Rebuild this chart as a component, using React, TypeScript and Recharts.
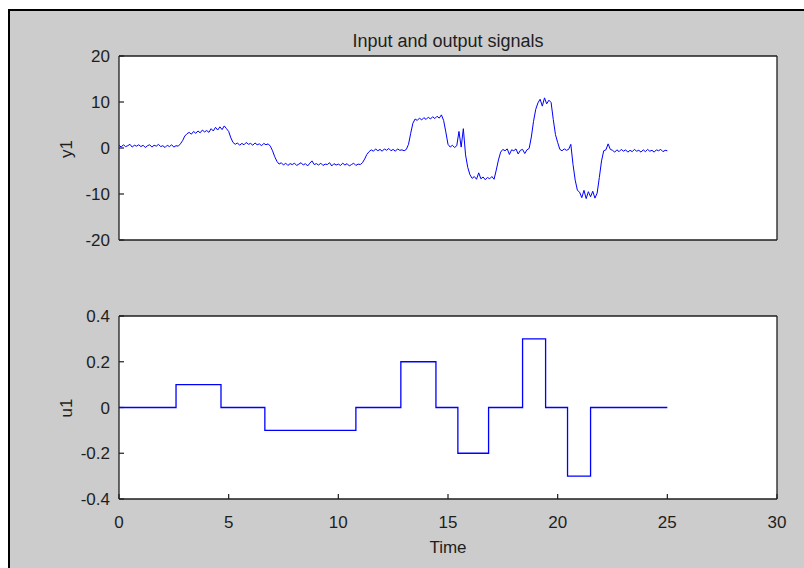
import React from "react";
import { LineChart, Line, XAxis, YAxis } from "recharts";

// sample period of the measured output (s)
const SAMPLE_DT = 0.1;

// y1, one row per second of the record
const y1Values = [
  0.6, 0.2, 0.7, 0.3, 0.5, 0.8, 0.2, 0.6, 0.4, 0.7,
  0.3, 0.6, 0.1, 0.5, 0.7, 0.2, 0.6, 0.4, 0.8, 0.3,
  0.5, 0.1, 0.6, 0.3, 0.7, 0.2, 0.5, 0.4, 0.9, 1.6,
  2.6, 3.1, 3.4, 3.0, 3.6, 3.2, 3.7, 3.3, 3.9, 3.5,
  3.8, 3.4, 4.2, 3.7, 4.5, 3.9, 4.6, 4.0, 4.8, 4.2,
  3.6, 2.2, 1.2, 0.8, 1.1, 0.6, 1.0, 0.7, 1.2, 0.8,
  1.0, 0.6, 1.1, 0.7, 0.9, 0.5, 1.0, 0.7, 0.9, 0.4,
  -0.6, -1.9, -2.9, -3.5, -3.2, -3.7, -3.3, -3.8, -3.4, -3.6,
  -3.3, -3.8, -3.5, -3.2, -3.7, -3.4, -3.9, -3.3, -2.8, -3.6,
  -3.4, -3.7, -3.3, -3.8, -3.5, -3.6, -3.2, -3.9, -3.4, -3.7,
  -3.5, -3.8, -3.3, -3.7, -3.4, -3.9, -3.6, -3.3, -3.8, -3.5,
  -3.6, -3.2, -2.4, -1.4, -0.8, -0.4, -0.7, -0.2, -0.6, -0.3,
  -0.7, -0.2, -0.5, -0.1, -0.6, -0.3, -0.7, -0.2, -0.5, -0.4,
  -0.6, -0.3, 0.8, 3.2, 5.4, 6.3, 6.0, 6.5, 6.1, 6.6,
  6.2, 6.7, 6.3, 6.8, 6.4, 6.9, 6.5, 7.2, 6.0, 3.5,
  0.8, 0.2, 0.6, 0.1, 0.5, 3.6, 0.2, 4.2, -1.5, -4.2,
  -5.8, -6.6, -6.2, -6.8, -5.4, -6.7, -6.3, -6.9, -6.4, -6.7,
  -6.2, -6.8, -4.8, -2.6, -0.9, -0.3, -0.6, -0.2, -1.4, -0.4,
  -0.6, -0.2, -1.3, -0.5, -0.3, -1.2, -0.4, -0.1, 2.4, 5.8,
  8.4, 9.8, 10.6, 9.1, 10.9, 9.6, 10.4, 9.9, 6.2, 2.9,
  1.2, -0.3, -0.6, -0.2, -0.5, -0.3, 0.8, -3.6, -7.0, -9.2,
  -9.6, -10.8, -9.2, -11.0, -9.5, -10.6, -9.4, -10.9, -9.8, -6.4,
  -2.8, -0.6, -0.4, 0.9, -0.3, -0.5, -0.9, -0.4, -0.8, -0.3,
  -0.7, -0.4, -0.9, -0.5, -0.8, -0.3, -0.7, -0.5, -0.9, -0.4,
  -0.8, -0.3, -0.7, -0.5, -0.9, -0.4, -0.6, -0.3, -0.8, -0.5,
  -0.6,
];

// u1 input: switching times and the level held after each one
const u1Times = [0, 2.6, 4.65, 6.65, 10.8, 12.85, 14.45, 15.45, 16.85, 18.4, 19.45, 20.45, 21.5, 25];
const u1Values = [0, 0.1, 0, -0.1, 0, 0.2, 0, -0.2, 0, 0.3, 0, -0.3, 0, 0];

const timeTicks = [0, 5, 10, 15, 20, 25, 30];
const y1Ticks = [-20, -10, 0, 10, 20];
const u1Ticks = [-0.4, -0.2, 0, 0.2, 0.4];

const y1Data = y1Values.map((v, i) => ({ t: Math.round(i * SAMPLE_DT * 10) / 10, y: v }));
const u1Data = u1Times.map((t, i) => ({ t, u: u1Values[i] }));

const FONT = '"Liberation Sans", Arial, Helvetica, sans-serif';
const INK = "#1e1e1e";
const tickStyle = { fill: INK, fontSize: 17, fontFamily: FONT };
const axisLine = { stroke: INK, strokeWidth: 1.3 };
const tickLine = { stroke: INK, strokeWidth: 1.2 };

function Box({ yDomain, yTicks, showTimeLabels }: { yDomain: number[]; yTicks: number[]; showTimeLabels: boolean }) {
  return [
    <XAxis
      key="xb"
      dataKey="t"
      type="number"
      domain={[0, 30]}
      ticks={timeTicks}
      interval={0}
      height={1}
      axisLine={axisLine}
      tickLine={tickLine}
      tickSize={-5}
      tickMargin={22}
      tick={showTimeLabels ? tickStyle : false}
    />,
    <XAxis
      key="xt"
      xAxisId="top"
      orientation="top"
      dataKey="t"
      type="number"
      domain={[0, 30]}
      ticks={timeTicks}
      interval={0}
      height={1}
      axisLine={axisLine}
      tickLine={tickLine}
      tickSize={-5}
      tick={false}
    />,
    <YAxis
      key="yl"
      type="number"
      domain={yDomain}
      ticks={yTicks}
      interval={0}
      width={1}
      axisLine={axisLine}
      tickLine={tickLine}
      tickSize={-5}
      tickMargin={14}
      tick={tickStyle}
    />,
    <YAxis
      key="yr"
      yAxisId="right"
      orientation="right"
      type="number"
      domain={yDomain}
      ticks={yTicks}
      interval={0}
      width={1}
      axisLine={axisLine}
      tickLine={tickLine}
      tickSize={-5}
      tick={false}
    />,
  ];
}

const label: React.CSSProperties = {
  position: "absolute",
  fontFamily: FONT,
  fontSize: 17,
  color: INK,
  whiteSpace: "nowrap",
  lineHeight: "20px",
};

const plotBg: React.CSSProperties = { position: "absolute", left: 119, width: 658, background: "#fff" };

export default function App() {
  return (
    <div style={{ position: "absolute", left: 0, top: 0, width: 804, height: 568, overflow: "hidden" }}>
      <div
        style={{
          position: "absolute",
          left: 8,
          top: 9,
          width: 796,
          height: 559,
          boxSizing: "border-box",
          background: "#cccccc",
          borderTop: "2px solid #000",
          borderLeft: "2px solid #000",
        }}
      />
      <div style={{ ...plotBg, top: 56, height: 184 }} />
      <div style={{ ...plotBg, top: 316, height: 183 }} />

      <div style={{ position: "absolute", left: 0, top: 0 }}>
        <LineChart width={804} height={280} data={y1Data} margin={{ top: 55, right: 26, left: 118, bottom: 39 }}>
          {Box({ yDomain: [-20, 20], yTicks: y1Ticks, showTimeLabels: false })}
          <Line dataKey="y" stroke="#0000ff" strokeWidth={1} dot={false} isAnimationActive={false} />
        </LineChart>
      </div>

      <div style={{ position: "absolute", left: 0, top: 280 }}>
        <LineChart width={804} height={288} data={u1Data} margin={{ top: 35, right: 26, left: 118, bottom: 68 }}>
          {Box({ yDomain: [-0.4, 0.4], yTicks: u1Ticks, showTimeLabels: true })}
          <Line type="stepAfter" dataKey="u" stroke="#0000ff" strokeWidth={1.3} dot={false} isAnimationActive={false} />
        </LineChart>
      </div>

      <div style={{ ...label, fontSize: 18, left: 348, width: 200, top: 31, textAlign: "center" }}>Input and output signals</div>
      <div style={{ ...label, left: 398, width: 100, top: 538, textAlign: "center" }}>Time</div>
      <div style={{ ...label, left: 47, width: 40, top: 139, textAlign: "center", transform: "rotate(-90deg)" }}>y1</div>
      <div style={{ ...label, left: 47, width: 40, top: 398, textAlign: "center", transform: "rotate(-90deg)" }}>u1</div>
    </div>
  );
}
